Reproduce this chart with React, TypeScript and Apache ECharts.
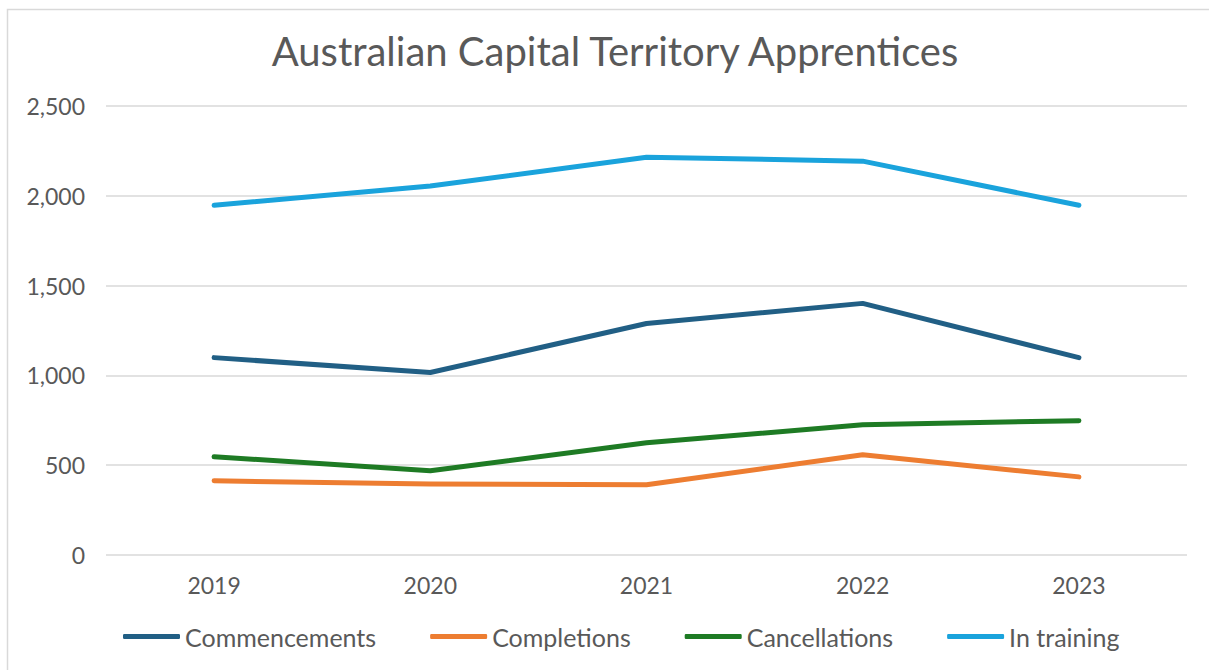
import React, { useEffect, useRef } from "react";
import * as echarts from "echarts";

const years = ["2019", "2020", "2021", "2022", "2023"];
const commencements = [1099, 1016, 1289, 1401, 1099];
const completions = [413, 396, 391, 558, 435];
const cancellations = [547, 469, 625, 725, 748];
const inTraining = [1947, 2054, 2215, 2193, 1947];

const seriesNames = ["Commencements", "Completions", "Cancellations", "In training"];
const seriesColors = ["#215F85", "#ED7D31", "#1E7B24", "#1AA3DC"];
const seriesData = [commencements, completions, cancellations, inTraining];

const FONT = "'Century Gothic', Lato, 'DejaVu Sans', sans-serif";

export default function App() {
  const ref = useRef<HTMLDivElement>(null);
  useEffect(() => {
    if (!ref.current) return;
    const chart = echarts.init(ref.current, undefined, { renderer: "svg" });
    chart.setOption({
      animation: false,
      backgroundColor: "#ffffff",
      textStyle: { fontFamily: FONT },
      title: {
        text: "Australian Capital Territory Apprentices",
        left: 610,
        textAlign: "center",
        top: 26,
        textStyle: { fontFamily: FONT, fontSize: 40, fontWeight: "normal", color: "#595959" },
      },
      graphic: [
        {
          type: "rect",
          shape: { x: 7.5, y: 9.5, width: 1220, height: 680 },
          style: { fill: "none", stroke: "#d9d9d9", lineWidth: 1.5 },
          silent: true,
        },
      ],
      legend: {
        bottom: 16,
        left: 118,
        itemWidth: 57,
        itemHeight: 5,
        itemGap: 54,
        icon: "roundRect",
        textStyle: { fontFamily: FONT, fontSize: 25, color: "#595959" },
        data: seriesNames,
      },
      grid: { left: 106, right: 22, top: 106, bottom: 115, containLabel: false },
      xAxis: {
        type: "category",
        data: years,
        boundaryGap: true,
        axisLine: { show: false },
        axisTick: { show: false },
        axisLabel: { fontFamily: FONT, fontSize: 23, color: "#595959", margin: 18 },
      },
      yAxis: {
        type: "value",
        min: 0,
        max: 2500,
        interval: 500,
        axisLine: { show: false },
        axisTick: { show: false },
        splitLine: { lineStyle: { color: "#d9d9d9", width: 1.5 } },
        axisLabel: {
          fontFamily: FONT,
          fontSize: 23,
          color: "#595959",
          margin: 21,
          formatter: (v: number) => v.toLocaleString("en-US"),
        },
      },
      series: seriesNames.map((name, i) => ({
        name,
        type: "line",
        data: seriesData[i],
        symbol: "none",
        lineStyle: { width: 5, color: seriesColors[i], cap: "round", join: "round" },
        itemStyle: { color: seriesColors[i] },
      })),
    });
    return () => chart.dispose();
  }, []);
  return (
    <div
      ref={ref}
      style={{ position: "fixed", left: 0, top: 0, width: 1209, height: 670 }}
    />
  );
}
